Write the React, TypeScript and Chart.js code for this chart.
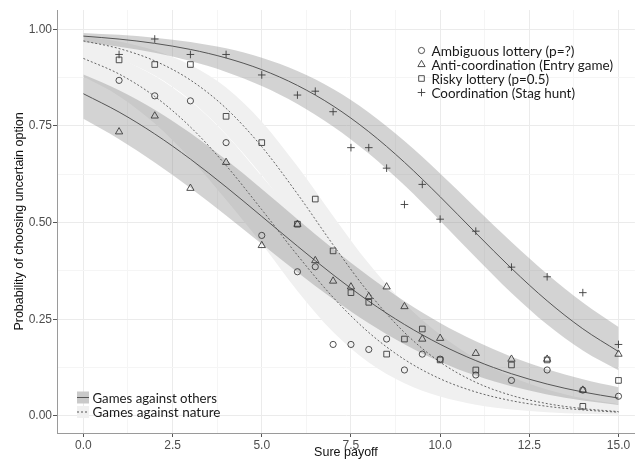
import React, { useEffect, useRef } from "react";
import { Chart, registerables } from "chart.js";

Chart.register(...registerables);

// ---- fitted curves at payoffs 0..15 ----
const curvePayoff = [0, 1, 2, 3, 4, 5, 6, 7, 8, 9, 10, 11, 12, 13, 14, 15];

// Coordination (games against others, solid)
const coordFit = [0.9825, 0.9748, 0.9637, 0.948, 0.9259, 0.8957, 0.8549, 0.8019, 0.7353, 0.6561, 0.5671, 0.4735, 0.3818, 0.2978, 0.2255, 0.1666];
const coordLo = [0.9671, 0.9552, 0.9392, 0.9179, 0.8899, 0.8536, 0.807, 0.7489, 0.6788, 0.5965, 0.505, 0.4098, 0.3178, 0.2363, 0.1695, 0.118];
const coordHi = [0.9908, 0.9859, 0.9785, 0.9674, 0.9508, 0.9267, 0.8925, 0.8459, 0.7852, 0.7111, 0.6272, 0.5382, 0.4502, 0.3675, 0.2934, 0.2299];

// Anti-coordination (games against others, solid)
const antiFit = [0.8334, 0.786, 0.7295, 0.6644, 0.5924, 0.5162, 0.4393, 0.3652, 0.2969, 0.2367, 0.1854, 0.1432, 0.1093, 0.0826, 0.062, 0.0463];
const antiLo = [0.7685, 0.7159, 0.6559, 0.5895, 0.5185, 0.4447, 0.3719, 0.3026, 0.2398, 0.1856, 0.1405, 0.1045, 0.0767, 0.0556, 0.04, 0.0286];
const antiHi = [0.8829, 0.8426, 0.7923, 0.7319, 0.6624, 0.5871, 0.509, 0.4327, 0.3612, 0.2967, 0.2407, 0.1931, 0.1534, 0.1211, 0.095, 0.0741];

// Ambiguous lottery (games against nature, dotted)
const ambFit = [0.9248, 0.8844, 0.8264, 0.7474, 0.6479, 0.5337, 0.4158, 0.3068, 0.2159, 0.1462, 0.0962, 0.0621, 0.0395, 0.025, 0.0157, 0.0098];
const ambLo = [0.8777, 0.8272, 0.7567, 0.666, 0.5592, 0.4452, 0.323, 0.2169, 0.1384, 0.0846, 0.0502, 0.0293, 0.0168, 0.0096, 0.0055, 0.0031];
const ambHi = [0.9548, 0.9244, 0.8792, 0.8146, 0.7275, 0.6201, 0.515, 0.4144, 0.3206, 0.2407, 0.1765, 0.127, 0.0901, 0.0633, 0.0441, 0.0306];

// Risky lottery (games against nature, dotted)
const riskyFit = [0.9701, 0.9503, 0.9184, 0.8688, 0.7957, 0.6964, 0.5744, 0.4427, 0.3186, 0.2159, 0.1394, 0.0871, 0.0532, 0.032, 0.0191, 0.0113];
const riskyLo = [0.9498, 0.9228, 0.8803, 0.8168, 0.7287, 0.6225, 0.5, 0.3705, 0.2516, 0.1558, 0.0895, 0.0497, 0.0271, 0.0146, 0.0078, 0.0042];
const riskyHi = [0.9823, 0.9683, 0.9451, 0.9076, 0.8497, 0.7613, 0.6457, 0.5175, 0.3941, 0.2911, 0.2108, 0.148, 0.1016, 0.0685, 0.0457, 0.0302];

// ---- observed proportions ----
const pointPayoff = [1, 2, 3, 4, 5, 6, 6.5, 7, 7.5, 8, 8.5, 9, 9.5, 10, 11, 12, 13, 14, 15];
const ambiguous = [0.868, 0.828, 0.815, 0.707, 0.467, 0.373, 0.386, 0.185, 0.185, 0.172, 0.199, 0.119, 0.16, 0.147, 0.106, 0.092, 0.119, 0.067, 0.051];
const antiCoordination = [0.735, 0.776, 0.589, 0.656, 0.441, 0.496, 0.402, 0.349, 0.334, 0.309, 0.334, 0.283, 0.199, 0.201, 0.162, 0.147, 0.147, 0.067, 0.16];
const risky = [0.921, 0.909, 0.909, 0.775, 0.707, 0.496, 0.561, 0.427, 0.319, 0.294, 0.16, 0.199, 0.225, 0.145, 0.119, 0.132, 0.145, 0.025, 0.092];
const coordination = [0.935, 0.975, 0.935, 0.935, 0.882, 0.83, 0.84, 0.787, 0.694, 0.694, 0.641, 0.547, 0.599, 0.509, 0.478, 0.385, 0.36, 0.319, 0.185];

// ---- ticks and labels ----
const xTickValues = [0, 1.25, 2.5, 3.75, 5, 6.25, 7.5, 8.75, 10, 11.25, 12.5, 13.75, 15];
const xTickLabels = ["0.0", "", "2.5", "", "5.0", "", "7.5", "", "10.0", "", "12.5", "", "15.0"];
const yTickValues = [0, 0.125, 0.25, 0.375, 0.5, 0.625, 0.75, 0.875, 1];
const yTickLabels = ["0.00", "", "0.25", "", "0.50", "", "0.75", "", "1.00"];

const seriesNames = ["Ambiguous lottery (p=?)", "Anti-coordination (Entry game)", "Risky lottery (p=0.5)", "Coordination (Stag hunt)"];
const seriesShapes = ["circle", "triangle", "rect", "cross"];
const groupNames = ["Games against others", "Games against nature"];
const xTitle = "Sure payoff";
const yTitle = "Probability of choosing uncertain option";

const INK = "#3c3c3c";
const LINE = "#555555";
const LIGHT_RIBBON = "#f0f0f0";
const DARK_RIBBON = "rgba(128,128,128,0.35)";

function drawSymbol(ctx: CanvasRenderingContext2D, shape: string, x: number, y: number) {
  ctx.beginPath();
  if (shape === "circle") {
    ctx.arc(x, y, 3.1, 0, Math.PI * 2);
  } else if (shape === "triangle") {
    const r = 4.2;
    ctx.moveTo(x, y - r);
    ctx.lineTo(x + r * 0.866, y + r * 0.5);
    ctx.lineTo(x - r * 0.866, y + r * 0.5);
    ctx.closePath();
  } else if (shape === "rect") {
    ctx.rect(x - 2.8, y - 2.8, 5.6, 5.6);
  } else {
    ctx.moveTo(x - 3.8, y);
    ctx.lineTo(x + 3.8, y);
    ctx.moveTo(x, y - 3.8);
    ctx.lineTo(x, y + 3.8);
  }
  ctx.stroke();
}

const legendPlugin = {
  id: "paperLegends",
  afterDraw(chart: any) {
    const ctx: CanvasRenderingContext2D = chart.ctx;
    ctx.save();
    // top-right legend (shapes)
    const maxW = [143, 181.5, 117.5, 143.5];
    ctx.font = "14px Lato";
    ctx.textBaseline = "middle";
    ctx.textAlign = "left";
    seriesNames.forEach((name, i) => {
      const y = 50.5 + i * 14;
      ctx.strokeStyle = INK;
      ctx.lineWidth = 0.9;
      drawSymbol(ctx, seriesShapes[i], 421.5, y);
      ctx.fillStyle = "#1a1a1a";
      ctx.fillText(name, 431.5, y + 0.5, maxW[i]);
    });
    // bottom-left legend (line types)
    const gW = [124.5, 128];
    groupNames.forEach((name, i) => {
      const y = 397.5 + i * 14.5;
      ctx.fillStyle = i === 0 ? "#c9c9c9" : LIGHT_RIBBON;
      ctx.fillRect(77, y - 6, 12, 12);
      ctx.strokeStyle = LINE;
      ctx.lineWidth = 1;
      ctx.setLineDash(i === 0 ? [] : [2, 2]);
      ctx.beginPath();
      ctx.moveTo(77, y);
      ctx.lineTo(89, y);
      ctx.stroke();
      ctx.setLineDash([]);
      ctx.fillStyle = "#1a1a1a";
      ctx.fillText(name, 92.5, y + 0.5, gW[i]);
    });
    ctx.restore();
  },
};

export default function App() {
  const ref = useRef<HTMLCanvasElement>(null);

  useEffect(() => {
    const canvas = ref.current;
    if (!canvas) return;
    const pts = (xs: number[], ys: number[]) => xs.map((x, i) => ({ x, y: ys[i] }));

    const ribbon = (lo: number[], hi: number[], color: string, order: number) => [
      {
        type: "line",
        data: pts(curvePayoff, lo),
        borderWidth: 0,
        borderColor: "rgba(0,0,0,0)",
        pointRadius: 0,
        fill: false,
        cubicInterpolationMode: "monotone",
        order,
      },
      {
        type: "line",
        data: pts(curvePayoff, hi),
        borderWidth: 0,
        borderColor: "rgba(0,0,0,0)",
        backgroundColor: color,
        pointRadius: 0,
        fill: "-1",
        cubicInterpolationMode: "monotone",
        order,
      },
    ];

    const fitLine = (ys: number[], dashed: boolean) => ({
      type: "line",
      data: pts(curvePayoff, ys),
      borderColor: LINE,
      borderWidth: dashed ? 0.9 : 1,
      borderDash: dashed ? [2, 2] : [],
      pointRadius: 0,
      fill: false,
      cubicInterpolationMode: "monotone",
      order: 5,
    });

    const scatter = (ys: number[], style: string, radius: number) => ({
      type: "line",
      data: pts(pointPayoff, ys),
      showLine: false,
      pointStyle: style,
      pointRadius: radius,
      pointBorderColor: INK,
      pointBackgroundColor: "rgba(0,0,0,0)",
      pointBorderWidth: 0.9,
      borderColor: INK,
      order: 1,
    });

    const isMajorX = (v: number) => Math.abs(v / 2.5 - Math.round(v / 2.5)) < 1e-6;
    const isMajorY = (v: number) => Math.abs(v / 0.25 - Math.round(v / 0.25)) < 1e-6;

    const chart = new Chart(canvas, {
      type: "line",
      data: {
        datasets: [
          ...ribbon(riskyLo, riskyHi, LIGHT_RIBBON, 10),
          ...ribbon(ambLo, ambHi, LIGHT_RIBBON, 10),
          ...ribbon(coordLo, coordHi, DARK_RIBBON, 9),
          ...ribbon(antiLo, antiHi, DARK_RIBBON, 9),
          fitLine(coordFit, false),
          fitLine(antiFit, false),
          fitLine(ambFit, true),
          fitLine(riskyFit, true),
          scatter(ambiguous, "circle", 3.1),
          scatter(antiCoordination, "triangle", 4.2),
          scatter(risky, "rect", 4),
          scatter(coordination, "cross", 3.8),
        ] as any,
      },
      options: {
        responsive: false,
        animation: false,
        events: [],
        layout: { padding: { top: 10, right: 0, left: 0, bottom: 0 } },
        plugins: {
          legend: { display: false },
          tooltip: { enabled: false },
          filler: { propagate: false },
        },
        scales: {
          x: {
            type: "linear",
            min: -0.74,
            max: 15.46,
            afterBuildTicks: (s: any) => {
              s.ticks = xTickValues.map((v) => ({ value: v }));
            },
            afterFit: (s: any) => {
              s.height = 29;
            },
            ticks: {
              autoSkip: false,
              maxRotation: 0,
              padding: 1,
              color: "#4d4d4d",
              font: { family: "'Liberation Sans', Arial, sans-serif", size: 12 },
              callback: (_v: any, i: number) => xTickLabels[i],
            },
            grid: {
              color: (c: any) => (isMajorX(c.tick.value) ? "#ebebeb" : "#f5f5f5"),
              tickColor: (c: any) => (isMajorX(c.tick.value) ? "#555555" : "rgba(0,0,0,0)"),
              tickLength: 4,
              lineWidth: 1,
            },
            border: { display: true, color: "#9a9a9a", width: 1 },
            title: {
              display: true,
              text: xTitle,
              color: "#111111",
              font: { family: "'Liberation Sans', Arial, sans-serif", size: 12.5 },
              padding: { top: 0, bottom: 1.5 },
            },
          },
          y: {
            type: "linear",
            min: -0.044,
            max: 1.05,
            afterBuildTicks: (s: any) => {
              s.ticks = yTickValues.map((v) => ({ value: v }));
            },
            afterFit: (s: any) => {
              s.width = 57;
            },
            ticks: {
              autoSkip: false,
              padding: 1,
              color: "#4d4d4d",
              font: { family: "'Liberation Sans', Arial, sans-serif", size: 12 },
              callback: (_v: any, i: number) => yTickLabels[i],
            },
            grid: {
              color: (c: any) => (isMajorY(c.tick.value) ? "#ebebeb" : "#f5f5f5"),
              tickColor: (c: any) => (isMajorY(c.tick.value) ? "#555555" : "rgba(0,0,0,0)"),
              tickLength: 4,
              lineWidth: 1,
            },
            border: { display: true, color: "#9a9a9a", width: 1 },
            title: {
              display: true,
              text: yTitle,
              color: "#111111",
              font: { family: "'Liberation Sans', Arial, sans-serif", size: 12.5 },
              padding: { top: 12.5, bottom: 0 },
            },
          },
        },
      } as any,
      plugins: [legendPlugin],
    });

    return () => chart.destroy();
  }, []);

  return (
    <div style={{ position: "fixed", left: 0, top: 0, width: 640, height: 462, background: "#ffffff" }}>
      <canvas ref={ref} width={640} height={462} style={{ display: "block" }} />
    </div>
  );
}
